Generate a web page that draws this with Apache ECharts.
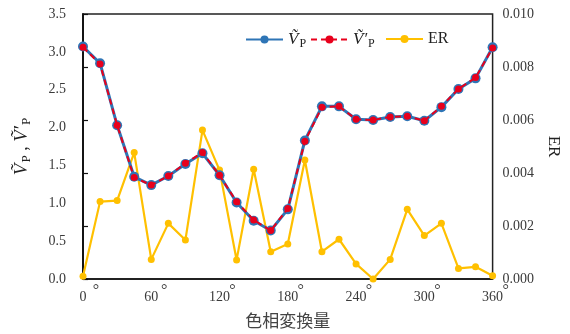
<!DOCTYPE html>
<html>
<head>
<meta charset="utf-8">
<script src="https://cdn.jsdelivr.net/npm/echarts@6/dist/echarts.min.js"></script>
<style>
  html, body { margin: 0; padding: 0; background: #fff; }
  #chart { width: 570px; height: 334px; }
</style>
</head>
<body>
<div id="chart"></div>
<script>
// Hue shift (degrees), sampled every 15°
const hueShift = [0, 15, 30, 45, 60, 75, 90, 105, 120, 135, 150, 165, 180,
                  195, 210, 225, 240, 255, 270, 285, 300, 315, 330, 345, 360];
// Estimated value Vp
const vp = [3.07, 2.85, 2.03, 1.35, 1.24, 1.36, 1.52, 1.66, 1.37, 1.01, 0.77, 0.64, 0.92,
            1.83, 2.28, 2.28, 2.11, 2.10, 2.14, 2.15, 2.09, 2.27, 2.51, 2.65, 3.06];
// Reconstructed value V'p
const vpPrime = [3.06, 2.84, 2.03, 1.34, 1.24, 1.36, 1.53, 1.67, 1.37, 1.02, 0.78, 0.64, 0.93,
                 1.82, 2.27, 2.28, 2.11, 2.10, 2.14, 2.15, 2.09, 2.28, 2.51, 2.66, 3.05];
// Error rate
const er = [0.0001, 0.00292, 0.00296, 0.00477, 0.00074, 0.0021, 0.00147, 0.00562, 0.00411,
            0.00072, 0.00414, 0.00103, 0.00132, 0.00449, 0.00103, 0.0015, 0.00057, 0.0,
            0.00074, 0.00263, 0.00164, 0.0021, 0.0004, 0.00046, 0.00012];
// Axis ticks
const xTicks = { min: 0, max: 360, interval: 60 };
const leftTicks = { min: 0, max: 3.5, interval: 0.5 };
const rightTicks = { min: 0, max: 0.010, interval: 0.002 };

const pairs = arr => hueShift.map((h, i) => [h, arr[i]]);

const SERIF = '"Liberation Serif", "DejaVu Serif", serif';
const TEXT = '#3a3a3a';
const BLUE = '#2E75B6';
const RED = '#E8001C';
const YELLOW = '#FFC000';

const vRich = {
  v: { fontFamily: SERIF, fontStyle: 'italic', fontSize: 17, color: '#222' },
  s: { fontFamily: SERIF, fontSize: 12, color: '#222', padding: [8, 0, 0, 1] },
  t: { fontFamily: SERIF, fontSize: 16, color: '#222' }
};
const nameRich = {
  v: { fontFamily: SERIF, fontStyle: 'italic', fontSize: 19, color: '#222' },
  s: { fontFamily: SERIF, fontSize: 13, color: '#222', padding: [9, 0, 0, 1] },
  t: { fontFamily: SERIF, fontSize: 18, color: '#222' }
};
const legendNames = {
  Vp: '{v|V\u0303}{s|P}',
  VpPrime: '{v|V\u0303\u2032}{s|P}',
  ER: '{t|ER}'
};
const makeLegend = (name, left) => ({
  data: [name],
  left: left,
  top: 26,
  itemWidth: 37,
  itemHeight: 10,
  selectedMode: false,
  formatter: n => legendNames[n],
  textStyle: { rich: vRich, fontFamily: SERIF, fontSize: 16, color: '#222' }
});

const chart = echarts.init(document.getElementById('chart'), null, { renderer: 'canvas' });
chart.setOption({
  animation: false,
  grid: {
    left: 83, right: 72, top: 14, bottom: 55,
    show: true, borderColor: '#222', borderWidth: 1.5, backgroundColor: 'transparent'
  },
  legend: [makeLegend('Vp', 240), makeLegend('VpPrime', 305), makeLegend('ER', 380)],
  xAxis: [
    {
      type: 'value',
      min: xTicks.min, max: xTicks.max, interval: xTicks.interval,
      position: 'bottom',
      name: '色相変換量',
      nameLocation: 'middle',
      nameGap: 33,
      nameTextStyle: { fontFamily: '"Noto Sans CJK JP", sans-serif', fontSize: 17, color: '#444' },
      axisLine: { lineStyle: { color: '#111', width: 1.5 } },
      axisTick: { show: false },
      splitLine: { show: false },
      axisLabel: { margin: 11, fontFamily: SERIF, fontSize: 14, color: TEXT }
    },
    {
      // degree marks beside each hue label
      type: 'value',
      min: xTicks.min, max: xTicks.max, interval: xTicks.interval,
      position: 'bottom',
      axisLine: { show: false },
      axisTick: { show: false },
      splitLine: { show: false },
      axisLabel: {
        margin: 4,
        formatter: () => '{d|°}',
        rich: { d: { fontFamily: SERIF, fontSize: 16, color: TEXT, padding: [0, 0, 0, 26] } }
      }
    }
  ],
  yAxis: [
    {
      type: 'value',
      min: leftTicks.min, max: leftTicks.max, interval: leftTicks.interval,
      name: '{v|V\u0303}{s|P}{t| , }{v|V\u0303\u2032}{s|P}',
      nameLocation: 'middle',
      nameGap: 50,
      nameTextStyle: { rich: nameRich },
      axisLine: { show: true, lineStyle: { color: '#111', width: 1.5 } },
      axisTick: { show: false },
      splitLine: { show: false },
      axisLabel: {
        margin: 17, fontFamily: SERIF, fontSize: 14, color: TEXT,
        formatter: v => v.toFixed(1)
      }
    },
    {
      type: 'value',
      min: rightTicks.min, max: rightTicks.max, interval: rightTicks.interval,
      position: 'right',
      name: 'ER',
      nameLocation: 'middle',
      nameRotate: -90,
      nameGap: 48,
      nameTextStyle: { fontFamily: SERIF, fontSize: 17, color: '#222' },
      axisLine: { show: true, lineStyle: { color: '#111', width: 1.5 } },
      axisTick: { show: true, length: 5, lineStyle: { color: '#111', width: 1.2 } },
      splitLine: { show: false },
      axisLabel: {
        margin: 10, fontFamily: SERIF, fontSize: 14, color: TEXT,
        formatter: v => v.toFixed(3)
      }
    }
  ],
  series: [
    {
      name: 'ER',
      type: 'line',
      yAxisIndex: 1,
      data: pairs(er),
      symbol: 'circle',
      symbolSize: 7,
      itemStyle: { color: YELLOW },
      lineStyle: { color: YELLOW, width: 2.2 },
      z: 2
    },
    {
      name: 'Vp',
      type: 'line',
      data: pairs(vp),
      symbol: 'circle',
      symbolSize: 10,
      itemStyle: { color: BLUE },
      lineStyle: { color: BLUE, width: 3 },
      z: 3
    },
    {
      name: 'VpPrime',
      type: 'line',
      data: pairs(vpPrime),
      symbol: 'circle',
      symbolSize: 7,
      itemStyle: { color: RED },
      lineStyle: { color: RED, width: 2, type: [6, 4] },
      z: 4
    }
  ]
});
</script>
</body>
</html>
